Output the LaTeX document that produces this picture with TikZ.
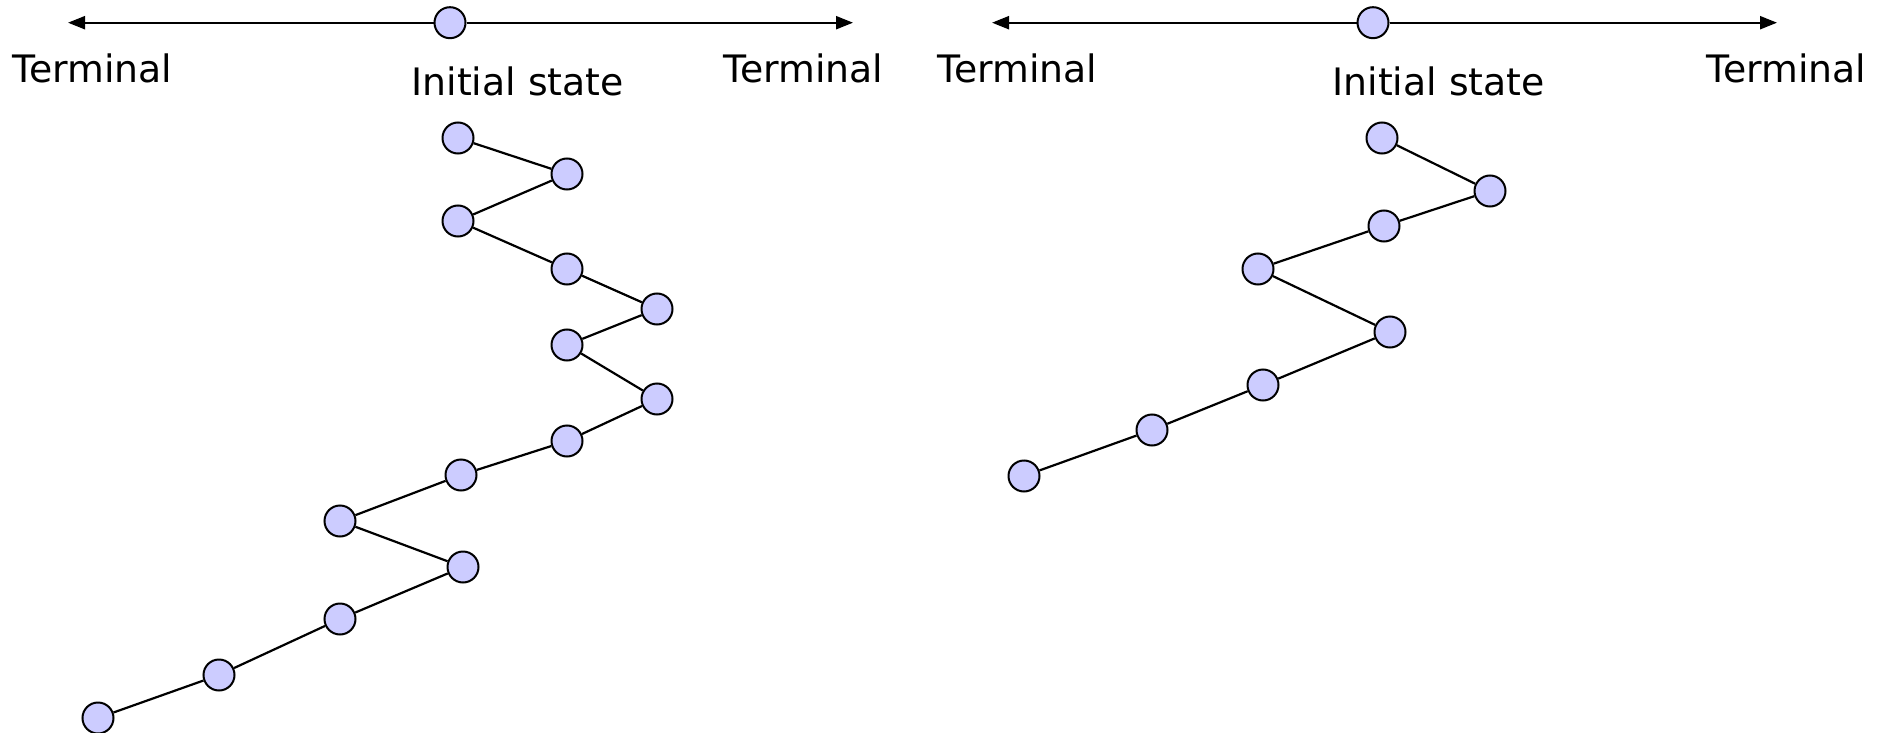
\documentclass[tikz,border=0pt]{standalone}
\usepackage{fontspec}
\setmainfont{DejaVu Sans}
\usetikzlibrary{arrows.meta}
\definecolor{nodefill}{HTML}{CCCCFF}
\begin{document}
\begin{tikzpicture}[x=0.5pt,y=-0.5pt,
  state/.style={circle,draw=black,fill=nodefill,line width=1pt,minimum size=15.5pt,inner sep=0pt},
  link/.style={draw=black,line width=1.1pt},
  axisarrow/.style={draw=black,line width=1.1pt,-{Triangle[length=8.5pt,width=6.5pt]}},
  lbl/.style={anchor=base west,inner sep=0pt,font=\fontsize{18.9pt}{22pt}\selectfont}]
\useasboundingbox (0,0) rectangle (1879,733);
% left axis
\coordinate (la) at (68,22.7);
\coordinate (lb) at (853,22.7);
\node[state] (ltop) at (450,22.7) {};
\draw[axisarrow] (ltop) -- (la);
\draw[axisarrow] (ltop) -- (lb);
\node[lbl] (lt1) at (12,83) {Terminal};
\node[lbl] (lis) at (411,96) {Initial state};
\node[lbl] (lt2) at (723,83) {Terminal};
% right axis
\coordinate (ra) at (992,22.7);
\coordinate (rb) at (1777,22.7);
\node[state] (rtop) at (1373,22.7) {};
\draw[axisarrow] (rtop) -- (ra);
\draw[axisarrow] (rtop) -- (rb);
\node[lbl] (rt1) at (937,83) {Terminal};
\node[lbl] (ris) at (1332,96) {Initial state};
\node[lbl] (rt2) at (1706,83) {Terminal};
% left chain
\node[state] (l1) at (458,138) {};
\node[state] (l2) at (567,174) {};
\node[state] (l3) at (458,221) {};
\node[state] (l4) at (567,269) {};
\node[state] (l5) at (657,309) {};
\node[state] (l6) at (567,345) {};
\node[state] (l7) at (657,399) {};
\node[state] (l8) at (567,441) {};
\node[state] (l9) at (461,475) {};
\node[state] (l10) at (340,521) {};
\node[state] (l11) at (463,567) {};
\node[state] (l12) at (340,619) {};
\node[state] (l13) at (219,675) {};
\node[state] (l14) at (98,718) {};
\draw[link] (l1)--(l2) (l2)--(l3) (l3)--(l4) (l4)--(l5) (l5)--(l6) (l6)--(l7) (l7)--(l8)
  (l8)--(l9) (l9)--(l10) (l10)--(l11) (l11)--(l12) (l12)--(l13) (l13)--(l14);
% right chain
\node[state] (r1) at (1382,138) {};
\node[state] (r2) at (1490,191) {};
\node[state] (r3) at (1384,226) {};
\node[state] (r4) at (1258,269) {};
\node[state] (r5) at (1390,332) {};
\node[state] (r6) at (1263,385) {};
\node[state] (r7) at (1152,430) {};
\node[state] (r8) at (1024,476) {};
\draw[link] (r1)--(r2) (r2)--(r3) (r3)--(r4) (r4)--(r5) (r5)--(r6) (r6)--(r7) (r7)--(r8);
\end{tikzpicture}
\end{document}
